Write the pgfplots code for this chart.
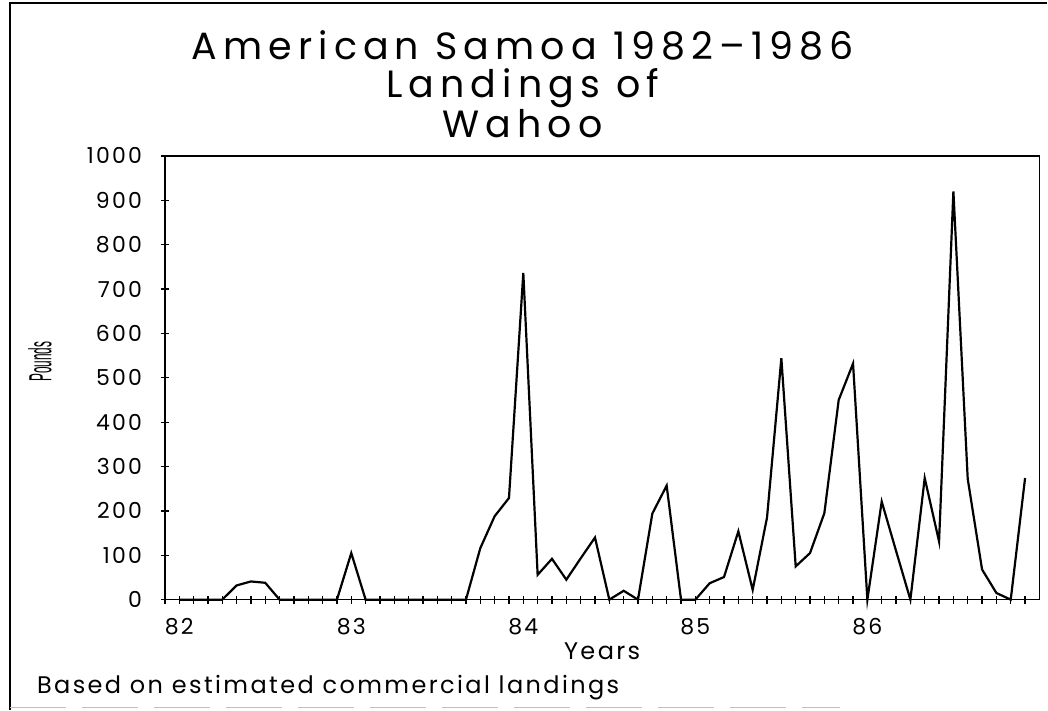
\documentclass[border=0pt]{standalone}
\usepackage{pgfplots}
\pgfplotsset{compat=1.18}
\usepackage{fontspec}
\setmainfont[LetterSpace=10]{Poppins}
\newfontfamily\titlefont[LetterSpace=16]{Poppins}
\newfontfamily\narrowfont[FakeStretch=0.37]{Liberation Sans}
\begin{document}
\begin{tikzpicture}
\path (0,0) rectangle (524pt,355pt);
\draw[line width=0.6pt] (5pt,0pt) -- (5pt,353.5pt) -- (524pt,353.5pt);
\draw[gray!50, line width=0.8pt, dash pattern=on 28pt off 8pt] (5pt,1pt) -- (420pt,1pt);
\begin{axis}[at={(82.5pt,55pt)}, anchor=south west, scale only axis,
  width=437.5pt, height=222pt,
  xmin=-1, xmax=60, ymin=0, ymax=1000,
  xtick={0,12,24,36,48}, xticklabels={82,83,84,85,86},
  minor xtick={-1,0,...,59},
  ytick={0,100,...,1000},
  tick align=center, major tick length=4pt, minor tick length=4pt,
  xtick pos=bottom, ytick pos=left,
  axis line style={line width=0.8pt},
  every tick/.style={black, line width=0.6pt},
  tick label style={font=\fontsize{11}{13}\selectfont},
  /pgf/number format/assume math mode=true,
  /pgf/number format/1000 sep={},
  xticklabel style={yshift=-4pt},
  yticklabel style={xshift=-6pt},
  clip=false]
\addplot[black, line width=1.1pt] table[x=m, y=v] {
m v
0 0
1 0
2 0
3 0
4 32
5 41
6 38
7 0
8 0
9 0
10 0
11 0
12 105
13 0
14 0
15 0
16 0
17 0
18 0
19 0
20 0
21 116
22 188
23 229
24 736
25 56
26 92
27 45
28 93
29 140
30 0
31 20
32 0
33 194
34 257
35 0
36 0
37 37
38 51
39 154
40 22
41 185
42 544
43 75
44 105
45 195
46 450
47 532
48 0
49 221
50 110
51 0
52 274
53 131
54 920
55 272
56 68
57 15
58 0
59 274
};
\end{axis}
\node[inner sep=0pt, align=center, font=\titlefont\fontsize{19}{19}\selectfont] at (261.5pt,313pt) {American Samoa 1982–1986\\Landings of\\Wahoo};
\node at (301.25pt,29pt) {\fontsize{12}{14}\selectfont Years};
\node[anchor=west] at (15pt,11pt) {\fontsize{12}{14}\selectfont Based on estimated commercial landings};
\node[rotate=90] at (20pt,174pt) {\narrowfont\fontsize{16}{18}\selectfont Pounds};
\end{tikzpicture}
\end{document}
